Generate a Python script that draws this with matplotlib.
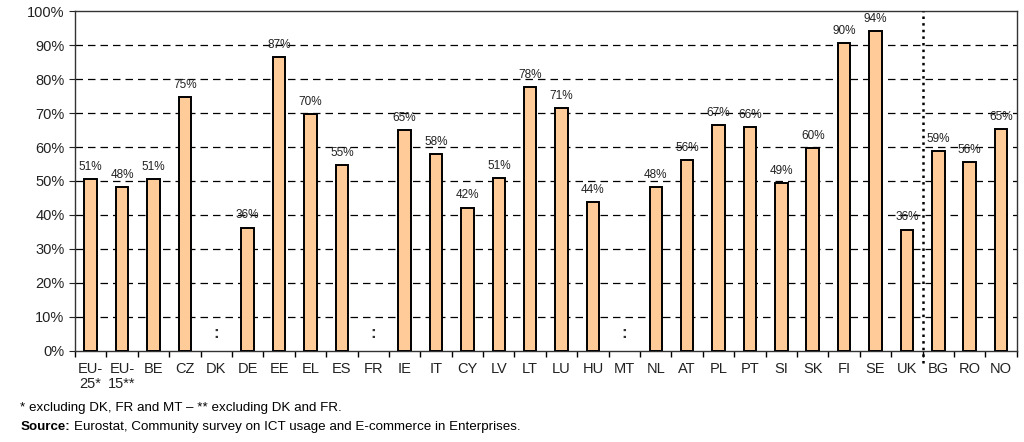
import numpy as np
import matplotlib.pyplot as plt
from matplotlib.ticker import FixedLocator, PercentFormatter

plt.rcParams['font.family'] = ['Liberation Sans', 'DejaVu Sans']

# Data (nan = not available)
countries = ['EU-\n25*', 'EU-\n15**', 'BE', 'CZ', 'DK', 'DE', 'EE', 'EL', 'ES', 'FR',
             'IE', 'IT', 'CY', 'LV', 'LT', 'LU', 'HU', 'MT', 'NL', 'AT', 'PL', 'PT',
             'SI', 'SK', 'FI', 'SE', 'UK', 'BG', 'RO', 'NO']
values = [50.6, 48.2, 50.6, 74.8, np.nan, 36.3, 86.5, 69.8, 54.6, np.nan,
          65.0, 58.0, 42.2, 50.8, 77.7, 71.4, 43.8, np.nan, 48.2, 56.2, 66.5, 65.8,
          49.4, 59.8, 90.5, 94.1, 35.7, 58.8, 55.6, 65.3]
labels = ['51%', '48%', '51%', '75%', ':', '36%', '87%', '70%', '55%', ':',
          '65%', '58%', '42%', '51%', '78%', '71%', '44%', ':', '48%', '56%', '67%', '66%',
          '49%', '60%', '90%', '94%', '36%', '59%', '56%', '65%']

fig = plt.figure(figsize=(10.24, 4.42), dpi=100)
ax = fig.add_axes([0.0732, 0.206, 0.9198, 0.769])

x = np.arange(len(countries))
vals = np.array(values)
ok = ~np.isnan(vals)
ax.bar(x[ok], vals[ok], width=0.4, color='#FFCC99', edgecolor='black', linewidth=1.4, zorder=3)

# value labels, ':' for missing data
for xi, v, lab in zip(x, vals, labels):
    if np.isnan(v):
        ax.text(xi, 5, lab, ha='center', va='center', fontsize=12, fontweight='bold', color='#333333')
    else:
        ax.text(xi, v + 1.8, lab, ha='center', va='bottom', fontsize=8.5, color='#222222', zorder=4)

ax.set_xlim(-0.5, len(countries) - 0.5)
ax.set_ylim(0, 100)
ax.yaxis.set_major_locator(FixedLocator(np.arange(0, 101, 10)))
ax.yaxis.set_major_formatter(PercentFormatter(decimals=0))
ax.tick_params(axis='y', labelsize=10.5, length=4, colors='#222222')

ax.set_xticks(x)
ax.set_xticklabels(countries, fontsize=10.5, color='#222222', va='top', linespacing=1.1)
ax.set_xticks(np.arange(-0.5, len(countries), 1), minor=True)
ax.tick_params(axis='x', which='major', length=0, pad=8)
ax.tick_params(axis='x', which='minor', length=4, width=1, direction='out')

for y in range(10, 100, 10):
    ax.axhline(y, color='black', linestyle=(0, (6, 4)), linewidth=0.9, zorder=1)

for sp in ax.spines.values():
    sp.set_color('#333333')
    sp.set_linewidth(1)

# separator between EU members and others
ax.axvline(26.5, ymin=-0.035, ymax=1.0, color='black', linestyle=':', linewidth=1.8, clip_on=False, zorder=5)

fig.text(0.02, 0.077, '* excluding DK, FR and MT \u2013 ** excluding DK and FR.', fontsize=9.6, va='center')
src = fig.text(0.02, 0.034, 'Source:', fontsize=9.6, fontweight='bold', va='center')
plt.annotate('Eurostat, Community survey on ICT usage and E-commerce in Enterprises.',
             xy=(1, 0.5), xycoords=src, xytext=(3, 0), textcoords='offset points',
             fontsize=9.6, va='center', ha='left', annotation_clip=False)

fig.savefig('out.png', dpi=100)
